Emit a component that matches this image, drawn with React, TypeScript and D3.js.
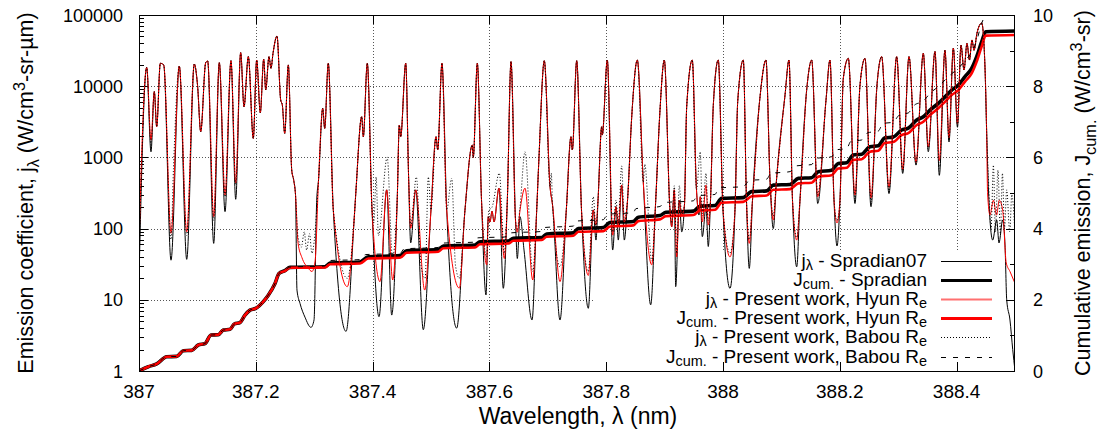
import React from 'react'
import * as d3 from 'd3'

type Pt = [number, number]
type Part = [string, ('sub' | 'sup')?]

const W = 1101
const H = 438
const PLOT = { left: 139, right: 1015, top: 15, bottom: 371 }
const KEY_EDGE = { x: 595, y: 250 }
const FONT = '"Liberation Sans", Arial, Helvetica, sans-serif'

const xTicks = [387, 387.2, 387.4, 387.6, 387.8, 388, 388.2, 388.4]
const yTicks = [1, 10, 100, 1000, 10000, 100000]
const y2Ticks = [0, 2, 4, 6, 8, 10]
const y2Minor = [1, 3, 5, 7, 9]

// features common to the three j_lambda spectra (peaks, shoulders, walls)
const specShared: Pt[] = [
  [387.0132, 18400], [387.0262, 8400], [387.0303, 2700], [387.0365, 21000], [387.0423, 19900],
  [387.069, 19200], [387.0947, 20500], [387.1002, 10400], [387.1057, 2300], [387.1142, 21400],
  [387.1176, 22600], [387.1375, 21400], [387.1575, 22800], [387.1741, 29600], [387.1798, 5150],
  [387.1872, 26000], [387.1957, 1850], [387.2015, 23300], [387.2077, 4250], [387.2135, 23900],
  [387.217, 8850], [387.2226, 26000], [387.226, 17800], [387.2295, 29000], [387.2363, 50700],
  [387.2426, 6400], [387.2454, 5450], [387.2495, 2180], [387.2557, 19900], [387.2615, 665],
  [387.2649, 480], [387.268, 300], [387.3074, 480], [387.3146, 4900], [387.318, 2560],
  [387.3241, 21000], [387.3327, 183], [387.3687, 147], [387.3716, 350], [387.3813, 3730],
  [387.3841, 1950], [387.3909, 21000], [387.399, 183], [387.4423, 280], [387.4457, 2850],
  [387.4481, 1950], [387.4567, 21000], [387.4618, 480], [387.5, 183], [387.5086, 1950],
  [387.5115, 1270], [387.5188, 21000], [387.5269, 183], [387.5582, 183], [387.5707, 1490],
  [387.5724, 1000], [387.5793, 21000], [387.5865, 250], [387.6307, 250], [387.637, 22100],
  [387.6447, 132], [387.681, 183], [387.6849, 1000], [387.694, 22800], [387.7038, 390],
  [387.7081, 215], [387.7317, 183], [387.7397, 1950], [387.742, 1270], [387.7495, 22800],
  [387.7577, 183], [387.786, 250], [387.7923, 2700], [387.7933, 2060], [387.8019, 23300],
  [387.8365, 250], [387.8437, 3730], [387.8533, 23300], [387.8635, 450], [387.8848, 250],
  [387.8921, 4600], [387.8995, 23300], [387.9092, 183], [387.934, 215], [387.9378, 5100],
  [387.9474, 23300], [387.9546, 350], [387.9786, 250], [387.9834, 5400], [387.9919, 23300],
  [388.0, 183], [388.0205, 183], [388.0252, 6100], [388.0348, 23300], [388.0402, 250],
  [388.0505, 250], [388.0634, 7100], [388.0736, 23300], [388.0805, 480], [388.0916, 480],
  [388.1062, 7500], [388.113, 23300], [388.119, 250], [388.1318, 250], [388.1433, 8900],
  [388.1519, 23300], [388.1764, 6400], [388.1832, 23300], [388.1901, 250], [388.2003, 250],
  [388.206, 12900], [388.2146, 24600], [388.2346, 10400], [388.2432, 24600], [388.2637, 10400],
  [388.2717, 26000], [388.2974, 26000], [388.3185, 26000], [388.343, 29000], [388.363, 30700],
  [388.3801, 32000], [388.3944, 34300], [388.4075, 37700], [388.4127, 16900], [388.4178, 40000],
  [388.422, 23300], [388.4264, 44600], [388.4298, 32000], [388.435, 56000], [388.443, 77000],
  [388.4486, 18600], [388.4515, 2200],
]

// valley points, Spradian07
const valleysSpradian: Pt[] = [
  [387.0, 20], [387.0205, 1200], [387.0548, 36], [387.0817, 37], [387.1279, 62], [387.1473, 173],
  [387.1656, 258], [387.2705, 13.7], [387.2757, 8.9], [387.2842, 5.7], [387.2945, 4.1],
  [387.2997, 5.2], [387.3043, 250], [387.3545, 3.6], [387.411, 5.8], [387.4241, 350],
  [387.4327, 6.1], [387.4652, 63], [387.4738, 350], [387.4868, 3.8], [387.544, 4.0],
  [387.5942, 11.7], [387.5981, 147], [387.601, 124], [387.6045, 176], [387.6079, 124],
  [387.6164, 370], [387.6238, 14.5], [387.6478, 38], [387.6524, 147], [387.6593, 50],
  [387.673, 5.2], [387.7209, 5.2], [387.7694, 7.6], [387.7779, 183], [387.7825, 69],
  [387.8111, 50], [387.8168, 203], [387.8207, 69], [387.8265, 410], [387.831, 69],
  [387.8762, 8.5], [387.9122, 106], [387.9166, 350], [387.919, 15.3], [387.9252, 250],
  [387.9293, 90], [387.9589, 155], [387.9611, 280], [387.9646, 77], [387.9709, 200],
  [387.9748, 56], [388.012, 14.5], [388.045, 27.6], [388.0861, 100], [388.1262, 29],
  [388.1622, 225], [388.1952, 57], [388.226, 225], [388.2534, 203], [388.2842, 310],
  [388.3077, 595], [388.3305, 780], [388.3515, 1200], [388.3704, 560], [388.387, 1650],
  [388.4015, 2650], [388.4543, 390], [388.4572, 132], [388.4618, 69], [388.4687, 132],
  [388.4726, 63], [388.4789, 132], [388.4829, 59], [388.4858, 10], [388.4914, 5.2],
  [388.4961, 2.0], [388.5, 1.0],
]

// valley points, present work with Hyun Re
const valleysHyun: Pt[] = [
  [387.0, 63], [387.0205, 1750], [387.0548, 86], [387.0817, 90], [387.1279, 147], [387.1473, 296],
  [387.1656, 437], [387.2723, 63], [387.2791, 39], [387.2894, 28], [387.2962, 25], [387.3014, 34],
  [387.3567, 15.3], [387.4127, 18], [387.4241, 350], [387.4344, 19], [387.4652, 101],
  [387.4738, 350], [387.4892, 13.7], [387.5485, 14.6], [387.5954, 31], [387.5981, 147],
  [387.601, 124], [387.6045, 176], [387.6079, 124], [387.6164, 370], [387.6255, 38],
  [387.6478, 89], [387.6524, 180], [387.661, 370], [387.6742, 19], [387.7209, 18],
  [387.7694, 22], [387.7779, 183], [387.7825, 112], [387.8111, 81], [387.8168, 203],
  [387.8207, 112], [387.8265, 410], [387.831, 124], [387.8779, 31], [387.9122, 106],
  [387.9166, 350], [387.9207, 40], [387.9252, 250], [387.9293, 155], [387.9589, 170],
  [387.9611, 280], [387.9646, 124], [387.9709, 410], [387.9748, 112], [388.012, 40],
  [388.045, 62], [388.0861, 132], [388.1262, 69], [388.1622, 280], [388.1952, 120],
  [388.226, 296], [388.2534, 270], [388.2842, 380], [388.3077, 680], [388.3305, 850],
  [388.3515, 1400], [388.3704, 900], [388.387, 1900], [388.4015, 3000], [388.453, 320],
  [388.4572, 155], [388.463, 250], [388.4684, 155], [388.473, 250], [388.4789, 183],
  [388.485, 33], [388.4914, 25], [388.5, 17],
]

// valley points, present work with Babou Re
const valleysBabou: Pt[] = [
  [387.0, 40], [387.0205, 1500], [387.0548, 70], [387.059, 700], [387.0817, 80], [387.1279, 130],
  [387.1473, 280], [387.1656, 420], [387.272, 80], [387.278, 55], [387.283, 90], [387.287, 50],
  [387.292, 85], [387.296, 45], [387.301, 80], [387.3567, 20], [387.402, 120], [387.406, 530],
  [387.41, 80], [387.425, 1000], [387.434, 40], [387.4652, 110], [387.475, 530], [387.483, 30],
  [387.49, 20], [387.4954, 530], [387.5354, 510], [387.542, 30], [387.5485, 20], [387.5954, 40],
  [387.599, 180], [387.6045, 200], [387.617, 600], [387.6255, 45], [387.6478, 100],
  [387.6524, 200], [387.661, 1200], [387.6742, 25], [387.706, 600], [387.7209, 29],
  [387.7694, 25], [387.7779, 280], [387.7825, 100], [387.8111, 90], [387.8168, 250],
  [387.8207, 120], [387.8265, 760], [387.831, 130], [387.866, 800], [387.8779, 35],
  [387.9122, 120], [387.9166, 400], [387.9207, 45], [387.9252, 400], [387.9293, 160],
  [387.9611, 1200], [387.9646, 150], [387.9709, 600], [387.9748, 130], [388.012, 45],
  [388.045, 70], [388.0861, 150], [388.1262, 75], [388.1622, 300], [388.1952, 130],
  [388.226, 260], [388.2534, 240], [388.2842, 340], [388.3077, 640], [388.3305, 800],
  [388.3515, 1300], [388.3704, 700], [388.387, 1750], [388.4015, 2800], [388.4543, 560],
  [388.459, 100], [388.463, 780], [388.4665, 90], [388.4708, 660], [388.475, 85],
  [388.4785, 600], [388.482, 100], [388.4858, 350], [388.491, 90], [388.4945, 300], [388.5, 80],
]

// cumulative emission J_cum (right axis)
const cumSpradian: Pt[] = [
  [387.0, 0], [387.0159, 0.12], [387.0303, 0.2], [387.0474, 0.4], [387.0646, 0.41], [387.0759, 0.57],
  [387.0902, 0.58], [387.1015, 0.73], [387.113, 0.77], [387.1233, 1.01], [387.1358, 1.02],
  [387.1443, 1.15], [387.1558, 1.17], [387.1632, 1.32], [387.1729, 1.36], [387.1815, 1.57],
  [387.1901, 1.71], [387.1998, 1.76], [387.2128, 1.95], [387.2214, 2.13], [387.2329, 2.46],
  [387.2397, 2.74], [387.25, 2.82], [387.2586, 2.91], [387.3185, 2.93], [387.3271, 3.03],
  [387.3784, 3.06], [387.3926, 3.21], [387.4469, 3.24], [387.4584, 3.38], [387.5125, 3.41],
  [387.5211, 3.51], [387.5753, 3.54], [387.5839, 3.63], [387.6324, 3.65], [387.6409, 3.73],
  [387.6896, 3.75], [387.6981, 3.85], [387.7437, 3.88], [387.7522, 4.0], [387.795, 4.03],
  [387.8065, 4.17], [387.8464, 4.2], [387.855, 4.32], [387.8921, 4.37], [387.9024, 4.46],
  [387.9491, 4.49], [387.9606, 4.63], [387.9863, 4.65], [387.9978, 4.85], [388.0348, 4.87],
  [388.0491, 5.04], [388.0748, 5.06], [388.0861, 5.22], [388.1147, 5.24], [388.1289, 5.41],
  [388.1519, 5.43], [388.1632, 5.6], [388.1861, 5.64], [388.1974, 5.83], [388.2118, 5.85],
  [388.2231, 6.07], [388.2375, 6.09], [388.2517, 6.3], [388.2659, 6.33], [388.2774, 6.55],
  [388.2911, 6.57], [388.306, 6.77], [388.3173, 6.82], [388.3317, 7.05], [388.343, 7.14],
  [388.3545, 7.33], [388.3687, 7.52], [388.3801, 7.7], [388.3916, 7.89], [388.4029, 8.03],
  [388.4144, 8.27], [388.4258, 8.5], [388.4344, 8.83], [388.443, 9.25], [388.4498, 9.53],
  [388.5, 9.55],
]

const cumHyun: Pt[] = [
  [387.0, 0], [387.0159, 0.12], [387.0303, 0.2], [387.0474, 0.4], [387.0646, 0.41], [387.0759, 0.57],
  [387.0902, 0.58], [387.1015, 0.73], [387.113, 0.77], [387.1233, 1.01], [387.1358, 1.02],
  [387.1443, 1.15], [387.1558, 1.17], [387.1632, 1.32], [387.1729, 1.36], [387.1815, 1.57],
  [387.1901, 1.71], [387.1998, 1.76], [387.2128, 1.95], [387.2214, 2.13], [387.2329, 2.46],
  [387.2397, 2.74], [387.25, 2.81], [387.2586, 2.9], [387.3185, 2.91], [387.3271, 3.0],
  [387.3784, 3.02], [387.3926, 3.16], [387.4469, 3.18], [387.4584, 3.32], [387.5125, 3.35],
  [387.5211, 3.45], [387.5753, 3.47], [387.5839, 3.56], [387.6324, 3.58], [387.6409, 3.66],
  [387.6896, 3.68], [387.6981, 3.77], [387.7437, 3.8], [387.7522, 3.91], [387.795, 3.93],
  [387.8065, 4.06], [387.8464, 4.09], [387.855, 4.21], [387.8921, 4.26], [387.9024, 4.35],
  [387.9491, 4.38], [387.9606, 4.51], [387.9863, 4.53], [387.9978, 4.73], [388.0348, 4.75],
  [388.0491, 4.91], [388.0748, 4.93], [388.0861, 5.09], [388.1147, 5.11], [388.1289, 5.27],
  [388.1519, 5.29], [388.1632, 5.46], [388.1861, 5.5], [388.1974, 5.69], [388.2118, 5.71],
  [388.2231, 5.93], [388.2375, 5.95], [388.2517, 6.16], [388.2659, 6.19], [388.2774, 6.41],
  [388.2911, 6.43], [388.306, 6.63], [388.3173, 6.68], [388.3317, 6.91], [388.343, 7.0],
  [388.3545, 7.19], [388.3687, 7.38], [388.3801, 7.56], [388.3916, 7.75], [388.4029, 7.89],
  [388.4144, 8.13], [388.4258, 8.36], [388.4344, 8.69], [388.443, 9.12], [388.4498, 9.42],
  [388.5, 9.44],
]

const cumBabou: Pt[] = [
  [387.0, 0], [387.0159, 0.12], [387.0303, 0.2], [387.0474, 0.4], [387.0646, 0.41], [387.0759, 0.57],
  [387.0902, 0.58], [387.1015, 0.73], [387.113, 0.77], [387.1233, 1.01], [387.1358, 1.02],
  [387.1443, 1.15], [387.1558, 1.17], [387.1632, 1.32], [387.1729, 1.36], [387.1815, 1.57],
  [387.1901, 1.71], [387.1998, 1.76], [387.2128, 1.95], [387.2214, 2.13], [387.2329, 2.46],
  [387.2397, 2.74], [387.25, 2.83], [387.2586, 2.92], [387.3185, 2.95], [387.323, 3.1],
  [387.3784, 3.13], [387.388, 3.27], [387.4469, 3.3], [387.454, 3.43], [387.5125, 3.47],
  [387.517, 3.59], [387.5753, 3.62], [387.58, 3.74], [387.6324, 3.77], [387.637, 3.88],
  [387.6896, 3.92], [387.694, 4.03], [387.7437, 4.07], [387.748, 4.21], [387.795, 4.25],
  [387.802, 4.4], [387.8464, 4.45], [387.851, 4.56], [387.8921, 4.62], [387.899, 4.73],
  [387.9491, 4.78], [387.956, 4.92], [387.9863, 4.96], [387.993, 5.14], [388.0348, 5.18],
  [388.045, 5.35], [388.0748, 5.39], [388.082, 5.55], [388.1147, 5.6], [388.125, 5.76],
  [388.1519, 5.8], [388.159, 5.97], [388.1861, 6.02], [388.194, 6.21], [388.2118, 6.25],
  [388.219, 6.45], [388.2375, 6.49], [388.248, 6.69], [388.2659, 6.74], [388.274, 6.95],
  [388.2911, 6.99], [388.302, 7.19], [388.3173, 7.25], [388.328, 7.47], [388.343, 7.58],
  [388.3545, 7.8], [388.3687, 7.99], [388.3801, 8.17], [388.3916, 8.35], [388.4029, 8.5],
  [388.4144, 8.72], [388.4258, 8.96], [388.4344, 9.28], [388.443, 9.77], [388.4515, 10.0],
  [388.5, 10.0],
]

const withShared = (valleys: Pt[]): Pt[] =>
  [...specShared, ...valleys].sort((a, b) => a[0] - b[0])

const x = d3.scaleLinear().domain([387, 388.5]).range([PLOT.left, PLOT.right])
const y = d3.scaleLog().domain([1, 100000]).range([PLOT.bottom, PLOT.top])
const y2 = d3.scaleLinear().domain([0, 10]).range([PLOT.bottom, PLOT.top])

const specLine = d3.line<Pt>().x((d) => x(d[0])).y((d) => y(d[1])).curve(d3.curveMonotoneX)
const cumLine = d3.line<Pt>().x((d) => x(d[0])).y((d) => y2(d[1])).curve(d3.curveMonotoneX)

const series = [
  { label: [['j'], ['λ', 'sub'], [' - Spradian07']] as Part[], d: specLine(withShared(valleysSpradian)), stroke: '#000', width: 1, dash: undefined, key: '#000' },
  { label: [['J'], ['cum.', 'sub'], [' - Spradian']] as Part[], d: cumLine(cumSpradian), stroke: '#000', width: 3.6, dash: undefined, key: '#000' },
  { label: [['j'], ['λ', 'sub'], [' - Present work, Hyun R'], ['e', 'sub']] as Part[], d: specLine(withShared(valleysHyun)), stroke: '#f00', width: 1, dash: undefined, key: '#ff7070' },
  { label: [['J'], ['cum.', 'sub'], [' - Present work, Hyun R'], ['e', 'sub']] as Part[], d: cumLine(cumHyun), stroke: '#f00', width: 2.6, dash: undefined, key: '#f00' },
  { label: [['j'], ['λ', 'sub'], [' - Present work, Babou R'], ['e', 'sub']] as Part[], d: specLine(withShared(valleysBabou)), stroke: '#000', width: 1, dash: '1,2', key: '#000' },
  { label: [['J'], ['cum.', 'sub'], [' - Present work, Babou R'], ['e', 'sub']] as Part[], d: cumLine(cumBabou), stroke: '#000', width: 1, dash: '5,7', key: '#000' },
]

function RichText({ parts, subShift = 5, ...rest }: { parts: Part[]; subShift?: number; [k: string]: any }) {
  let shift = 0
  return (
    <text {...rest}>
      {parts.map(([s, kind], i) => {
        const target = kind === 'sub' ? subShift : kind === 'sup' ? -8 : 0
        const dy = target - shift
        shift = target
        return (
          <tspan key={i} dy={dy} fontSize={kind ? '0.76em' : undefined}>{s}</tspan>
        )
      })}
    </text>
  )
}

export default function App() {
  const minorY: number[] = []
  for (let e = 0; e < 5; e++) for (let k = 2; k < 10; k++) minorY.push(k * Math.pow(10, e))
  const px = (v: number) => Math.round(v) + 0.5

  return (
    <div style={{ position: 'absolute', left: 0, top: 0 }}>
      <svg width={W} height={H} fontFamily={FONT} style={{ display: 'block', background: '#fff' }}>
        <defs>
          <clipPath id="plotclip">
            <rect x={PLOT.left} y={PLOT.top} width={PLOT.right - PLOT.left} height={PLOT.bottom - PLOT.top} />
          </clipPath>
        </defs>

        {/* grid, kept out of the key box */}
        <g stroke="#555" strokeWidth={1} strokeDasharray="1,2">
          {xTicks.slice(1).map((v) => (
            <line key={'gx' + v} x1={px(x(v))} x2={px(x(v))}
              y1={PLOT.top} y2={x(v) > KEY_EDGE.x ? KEY_EDGE.y : PLOT.bottom} />
          ))}
          {yTicks.slice(1, -1).map((v) => (
            <line key={'gy' + v} y1={px(y(v))} y2={px(y(v))}
              x1={PLOT.left} x2={y(v) > KEY_EDGE.y ? KEY_EDGE.x : PLOT.right} />
          ))}
        </g>

        {/* ticks */}
        <g stroke="#000" strokeWidth={1}>
          {yTicks.map((v) => (
            <line key={'ty' + v} x1={PLOT.left} x2={PLOT.left + 9} y1={px(y(v))} y2={px(y(v))} />
          ))}
          {minorY.map((v) => (
            <line key={'my' + v} x1={PLOT.left} x2={PLOT.left + 5} y1={px(y(v))} y2={px(y(v))} />
          ))}
          {y2Ticks.map((v) => (
            <line key={'ty2' + v} x1={PLOT.right - 9} x2={PLOT.right} y1={px(y2(v))} y2={px(y2(v))} />
          ))}
          {y2Minor.map((v) => (
            <line key={'my2' + v} x1={PLOT.right - 5} x2={PLOT.right} y1={px(y2(v))} y2={px(y2(v))} />
          ))}
          {xTicks.map((v) => (
            <g key={'tx' + v}>
              <line x1={px(x(v))} x2={px(x(v))} y1={PLOT.bottom} y2={PLOT.bottom - 9} />
              <line x1={px(x(v))} x2={px(x(v))} y1={PLOT.top} y2={PLOT.top + 9} />
            </g>
          ))}
        </g>

        {/* data */}
        <g clipPath="url(#plotclip)" fill="none" strokeLinejoin="round">
          {series.map((s, i) => (
            <path key={i} d={s.d || ''} stroke={s.stroke} strokeWidth={s.width} strokeDasharray={s.dash} />
          ))}
        </g>

        <rect x={PLOT.left + 0.5} y={PLOT.top + 0.5} width={PLOT.right - PLOT.left - 1} height={PLOT.bottom - PLOT.top}
          fill="none" stroke="#000" strokeWidth={1} />

        {/* tick labels */}
        <g fontSize={18} fill="#000">
          {yTicks.map((v) => (
            <text key={'ly' + v} x={123} y={y(v) + 6.5} textAnchor="end">{String(v)}</text>
          ))}
          {y2Ticks.map((v) => (
            <text key={'ly2' + v} x={1033} y={y2(v) + 6.5} textAnchor="start">{String(v)}</text>
          ))}
        </g>
        <g fontSize={19} fill="#000">
          {xTicks.map((v) => (
            <text key={'lx' + v} x={x(v)} y={398} textAnchor="middle">{String(v)}</text>
          ))}
        </g>

        {/* axis titles */}
        <g fontSize={21.5} fill="#000">
          <text x={578} y={424} fontSize={23} textAnchor="middle">Wavelength, λ (nm)</text>
          <RichText transform={`translate(33,${(PLOT.top + PLOT.bottom) / 2}) rotate(-90)`} textAnchor="middle" subShift={6}
            parts={[['Emission coefficient, j'], ['λ', 'sub'], [' (W/cm'], ['3', 'sup'], ['-sr-µm)']]} />
          <RichText transform={`translate(1090,${(PLOT.top + PLOT.bottom) / 2}) rotate(-90)`} textAnchor="middle" subShift={6}
            parts={[['Cumulative emission, J'], ['cum.', 'sub'], [' (W/cm'], ['3', 'sup'], ['-sr)']]} />
        </g>

        {/* key */}
        <g fontSize={19} fill="#000">
          {series.map((s, i) => {
            const ly = Math.round(261 + i * 19.1) + 0.5
            return (
              <g key={'k' + i}>
                <RichText x={927} y={ly + 5} textAnchor="end" subShift={3.5} parts={s.label} />
                <line x1={941} x2={992} y1={ly} y2={ly} stroke={s.key} strokeWidth={s.width === 1 ? (i === 2 ? 2 : 1) : 3}
                  strokeDasharray={s.dash} />
              </g>
            )
          })}
        </g>
      </svg>
    </div>
  )
}
